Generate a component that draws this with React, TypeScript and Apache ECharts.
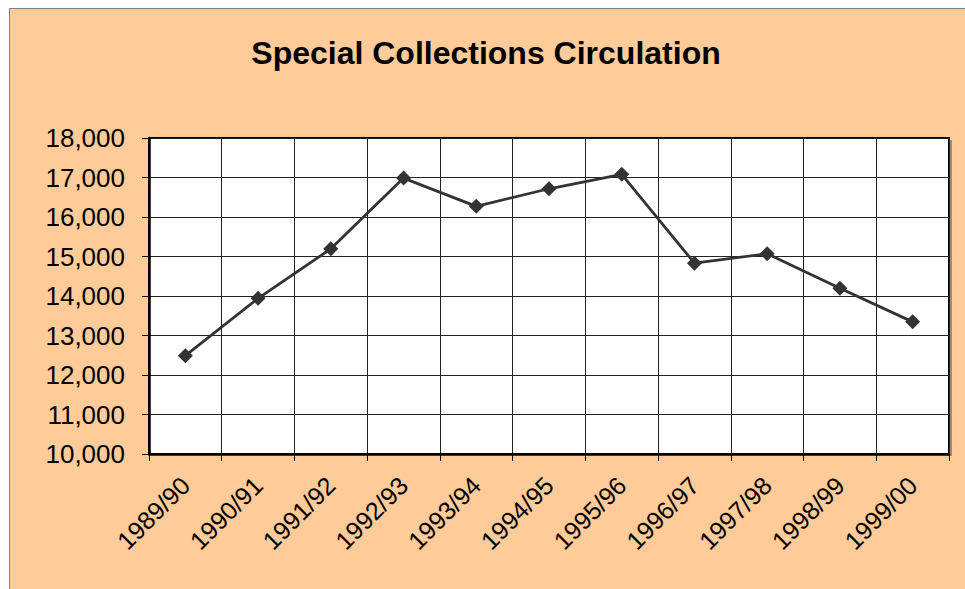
import React, { useEffect, useRef } from "react";
import * as echarts from "echarts";

const categories = ["1989/90", "1990/91", "1991/92", "1992/93", "1993/94", "1994/95", "1995/96", "1996/97", "1997/98", "1998/99", "1999/00"];
const circulation = [12490, 13940, 15195, 16985, 16270, 16715, 17080, 14830, 15070, 14195, 13345];
const yMin = 10000;
const yMax = 18000;
const yStep = 1000;
const titleText = "Special Collections Circulation";

export default function App() {
  const ref = useRef<HTMLDivElement>(null);
  useEffect(() => {
    if (!ref.current) return;
    const chart = echarts.init(ref.current, undefined, { renderer: "svg" });
    const font = "'Liberation Sans', Arial, sans-serif";
    chart.setOption({
      animation: false,
      backgroundColor: "#ffffff",
      graphic: [
        {
          type: "rect",
          z: -10,
          silent: true,
          shape: { x: 9.5, y: 8.5, width: 2000, height: 2000 },
          style: { fill: "#FFCC99", stroke: "#808080", lineWidth: 1 },
        },
        {
          type: "line",
          z: -5,
          silent: true,
          shape: { x1: 951, y1: 140, x2: 951, y2: 456 },
          style: { stroke: "#a08a70", lineWidth: 2 },
        },
      ],
      title: {
        text: titleText,
        left: 481,
        textAlign: "center",
        top: 32,
        textStyle: { fontFamily: font, fontSize: 32, fontWeight: "bold", color: "#000" },
      },
      grid: {
        left: 149,
        top: 138,
        right: 16,
        bottom: 135,
        show: true,
        backgroundColor: "#ffffff",
        borderColor: "#000",
        borderWidth: 2,
      },
      xAxis: {
        type: "category",
        data: categories,
        boundaryGap: true,
        axisLine: { show: true, lineStyle: { color: "#000", width: 2.5 } },
        axisTick: { show: true, length: 7, lineStyle: { color: "#000", width: 1 } },
        splitLine: { show: true, interval: 0, lineStyle: { color: "#222", width: 1 } },
        axisLabel: {
          interval: 0,
          rotate: 45,
          margin: 27,
          color: "#000",
          fontFamily: font,
          fontSize: 25,
        },
      },
      yAxis: {
        type: "value",
        min: yMin,
        max: yMax,
        interval: yStep,
        axisLine: { show: true, lineStyle: { color: "#000", width: 2.5 } },
        axisTick: { show: true, length: 7, lineStyle: { color: "#000", width: 1 } },
        splitLine: { show: true, lineStyle: { color: "#222", width: 1 } },
        axisLabel: {
          margin: 24,
          color: "#000",
          fontFamily: font,
          fontSize: 26,
          formatter: (v: number) => v.toLocaleString("en-US"),
        },
      },
      series: [
        {
          type: "line",
          data: circulation,
          symbol: "diamond",
          symbolSize: 15,
          lineStyle: { color: "#333", width: 2.8 },
          itemStyle: { color: "#333" },
        },
      ],
    });
    return () => chart.dispose();
  }, []);
  return (
    <div
      ref={ref}
      style={{ position: "fixed", left: 0, top: 0, width: 965, height: 589 }}
    />
  );
}
